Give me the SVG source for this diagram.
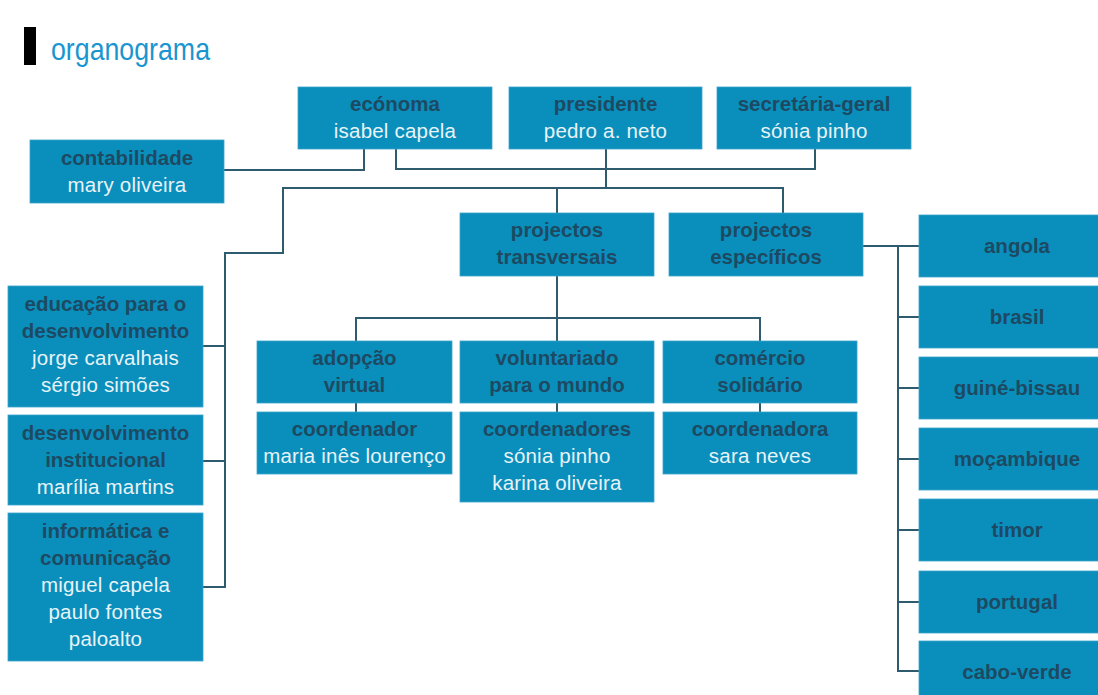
<svg xmlns="http://www.w3.org/2000/svg" width="1098" height="695" viewBox="0 0 1098 695">
<style>
.box{fill:#0a8fbd;stroke:#3aa3c9;stroke-width:0.8}
.h{font-family:"Liberation Sans",Arial,sans-serif;font-weight:bold;font-size:20.5px;fill:#1d4a62;text-anchor:middle}
.n{font-family:"Liberation Sans",Arial,sans-serif;font-size:20.5px;fill:#e8f3f7;text-anchor:middle;letter-spacing:0.2px}
.c{fill:none;stroke:#2f5b6f;stroke-width:2}
</style>
<rect width="1098" height="695" fill="#ffffff"/>
<g id="title">
<rect x="24" y="27" width="12" height="38" fill="#000000"/>
<text x="51" y="60" font-family="Liberation Sans,Arial,sans-serif" font-size="32" fill="#1a95cf" textLength="159" lengthAdjust="spacingAndGlyphs">organograma</text>
</g>
<g id="connectors">
<path class="c" d="M224,170 H364 V149"/>
<path class="c" d="M396,149 V169 H815 V149"/>
<path class="c" d="M606,149 V188"/>
<path class="c" d="M783,213 V188 H283 V253 H225 V587 H203"/>
<path class="c" d="M225,346 H203 M225,461 H203"/>
<path class="c" d="M557,188 V213"/>
<path class="c" d="M557,276 V341"/>
<path class="c" d="M356,341 V318 H760 V341"/>
<path class="c" d="M356,403 V412 M557,403 V412 M760,403 V412"/>
<path class="c" d="M863,246 H919 M898,246 V671 H919 M898,317 H919 M898,388 H919 M898,459 H919 M898,530 H919 M898,602 H919"/>
</g>
<g id="economa"><rect class="box" x="298" y="87" width="194" height="62"/>
<text class="h" x="395" y="111">ecónoma</text><text class="n" x="395" y="138">isabel capela</text></g>
<g id="presidente"><rect class="box" x="509" y="87" width="193" height="62"/>
<text class="h" x="605.5" y="111">presidente</text><text class="n" x="605.5" y="138">pedro a. neto</text></g>
<g id="secretaria"><rect class="box" x="717" y="87" width="194" height="62"/>
<text class="h" x="814" y="111">secretária-geral</text><text class="n" x="814" y="138">sónia pinho</text></g>
<g id="contabilidade"><rect class="box" x="30" y="140" width="194" height="63"/>
<text class="h" x="127" y="165">contabilidade</text><text class="n" x="127" y="192">mary oliveira</text></g>
<g id="educacao"><rect class="box" x="8" y="286" width="195" height="121"/>
<text class="h" x="105.5" y="311">educação para o</text><text class="h" x="105.5" y="338">desenvolvimento</text>
<text class="n" x="105.5" y="365">jorge carvalhais</text><text class="n" x="105.5" y="392">sérgio simões</text></g>
<g id="desenvolvimento"><rect class="box" x="8" y="415" width="195" height="90"/>
<text class="h" x="105.5" y="440">desenvolvimento</text><text class="h" x="105.5" y="467">institucional</text>
<text class="n" x="105.5" y="494">marília martins</text></g>
<g id="informatica"><rect class="box" x="8" y="513" width="195" height="148"/>
<text class="h" x="105.5" y="538">informática e</text><text class="h" x="105.5" y="565">comunicação</text>
<text class="n" x="105.5" y="592">miguel capela</text><text class="n" x="105.5" y="619">paulo fontes</text><text class="n" x="105.5" y="646">paloalto</text></g>
<g id="transversais"><rect class="box" x="460" y="213" width="194" height="63"/>
<text class="h" x="557" y="237">projectos</text><text class="h" x="557" y="264">transversais</text></g>
<g id="especificos"><rect class="box" x="669" y="213" width="194" height="63"/>
<text class="h" x="766" y="237">projectos</text><text class="h" x="766" y="264">específicos</text></g>
<g id="adopcao"><rect class="box" x="257" y="341" width="195" height="62"/>
<text class="h" x="354.5" y="365">adopção</text><text class="h" x="354.5" y="392">virtual</text></g>
<g id="voluntariado"><rect class="box" x="460" y="341" width="194" height="62"/>
<text class="h" x="557" y="365">voluntariado</text><text class="h" x="557" y="392">para o mundo</text></g>
<g id="comercio"><rect class="box" x="663" y="341" width="194" height="62"/>
<text class="h" x="760" y="365">comércio</text><text class="h" x="760" y="392">solidário</text></g>
<g id="coord-adopcao"><rect class="box" x="257" y="412" width="195" height="62"/>
<text class="h" x="354.5" y="436">coordenador</text><text class="n" x="354.5" y="463">maria inês lourenço</text></g>
<g id="coord-voluntariado"><rect class="box" x="460" y="412" width="194" height="90"/>
<text class="h" x="557" y="436">coordenadores</text><text class="n" x="557" y="463">sónia pinho</text><text class="n" x="557" y="490">karina oliveira</text></g>
<g id="coord-comercio"><rect class="box" x="663" y="412" width="194" height="62"/>
<text class="h" x="760" y="436">coordenadora</text><text class="n" x="760" y="463">sara neves</text></g>
<g id="angola"><rect class="box" x="919" y="215" width="200" height="62"/><text class="h" x="1017" y="253">angola</text></g>
<g id="brasil"><rect class="box" x="919" y="286" width="200" height="62"/><text class="h" x="1017" y="324">brasil</text></g>
<g id="guine-bissau"><rect class="box" x="919" y="357" width="200" height="62"/><text class="h" x="1017" y="395">guiné-bissau</text></g>
<g id="mocambique"><rect class="box" x="919" y="428" width="200" height="62"/><text class="h" x="1017" y="466">moçambique</text></g>
<g id="timor"><rect class="box" x="919" y="499" width="200" height="62"/><text class="h" x="1017" y="537">timor</text></g>
<g id="portugal"><rect class="box" x="919" y="571" width="200" height="62"/><text class="h" x="1017" y="609">portugal</text></g>
<g id="cabo-verde"><rect class="box" x="919" y="641" width="200" height="62"/><text class="h" x="1017" y="679">cabo-verde</text></g>
</svg>
